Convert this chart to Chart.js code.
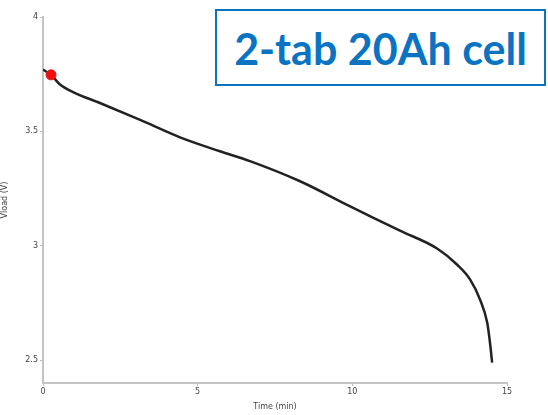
<!DOCTYPE html>
<html>
<head>
<meta charset="utf-8">
<script src="https://cdn.jsdelivr.net/npm/chart.js@4/dist/chart.umd.min.js"></script>
<style>
  body { margin: 0; background: #fff; }
  #wrap { position: relative; width: 548px; height: 415px; }
  #label {
    position: absolute; left: 215px; top: 9px; width: 331px; height: 77px;
    border: 2px solid #0a74c2; box-sizing: border-box;
    font-family: Lato, "Open Sans", sans-serif; font-weight: bold; font-size: 43px;
    color: #0a74c2; display: flex; align-items: center; justify-content: center;
    background: #fff; padding-top: 1px;
  }
</style>
</head>
<body>
<div id="wrap">
  <canvas id="c" width="548" height="415"></canvas>
  <div id="label">2-tab 20Ah cell</div>
</div>
<script>
// discharge curve
const timeMin = [0, 0.26, 0.55, 0.97, 1.84, 3.14, 4.43, 5.72, 6.69, 8.31, 9.93, 10.9, 11.54, 12.74, 13.39, 13.81, 14.13, 14.36, 14.45, 14.52];
const vload   = [3.77, 3.747, 3.705, 3.672, 3.624, 3.55, 3.474, 3.413, 3.37, 3.282, 3.172, 3.108, 3.066, 2.988, 2.917, 2.852, 2.764, 2.664, 2.576, 2.489];
const markerT = [0.26];
const markerV = [3.747];
const xTicks = [0, 5, 10, 15];
const yTicks = [2.5, 3, 3.5, 4];

const curve = timeMin.map((t, i) => ({x: t, y: vload[i]}));
const marker = markerT.map((t, i) => ({x: t, y: markerV[i]}));

const tickFont = {family: 'DejaVu Sans', size: 8};

new Chart(document.getElementById('c').getContext('2d'), {
  type: 'scatter',
  data: {
    datasets: [
      {
        data: marker,
        backgroundColor: '#ee1111',
        borderColor: '#ee1111',
        pointRadius: 5,
        order: 0
      },
      {
        data: curve,
        showLine: true,
        borderColor: '#222',
        borderWidth: 2.5,
        pointRadius: 0,
        cubicInterpolationMode: 'monotone',
        order: 1
      }
    ]
  },
  options: {
    responsive: false,
    animation: false,
    layout: {padding: {top: 17, right: 41, left: 0, bottom: 0}},
    plugins: {legend: {display: false}, tooltip: {enabled: false}},
    scales: {
      x: {
        type: 'linear', min: 0, max: 15,
        afterBuildTicks: s => { s.ticks = xTicks.map(v => ({value: v})); },
        afterFit: s => { s.height = 32; },
        grid: {drawOnChartArea: false, tickLength: 3, color: '#bbb'},
        border: {color: '#c4c4c4', width: 2},
        ticks: {font: tickFont, color: '#444', padding: 1, maxRotation: 0, callback: v => String(v)},
        title: {display: true, text: 'Time (min)', font: tickFont, color: '#444', padding: {top: 0, bottom: 3}}
      },
      y: {
        type: 'linear', min: 2.4, max: 4,
        afterBuildTicks: s => { s.ticks = yTicks.map(v => ({value: v})); },
        afterFit: s => { s.width = 43; },
        grid: {drawOnChartArea: false, tickLength: 3, color: '#bbb'},
        border: {color: '#c4c4c4', width: 2},
        ticks: {font: tickFont, color: '#444', padding: 2, callback: v => String(v)},
        title: {display: true, text: 'Vload (V)', font: tickFont, color: '#444', padding: {top: 0, bottom: 0}}
      }
    }
  }
});
</script>
</body>
</html>
